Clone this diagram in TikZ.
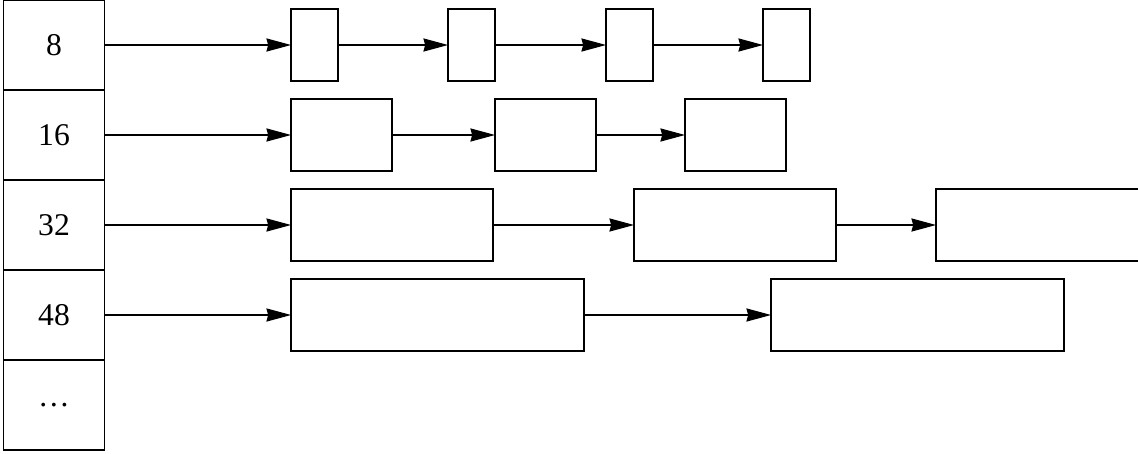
\documentclass[tikz,border=0pt]{standalone}
\usepackage{fontspec}
\setmainfont{Liberation Serif}
\usetikzlibrary{arrows.meta,positioning}

\begin{document}
\begin{tikzpicture}[x=0.02cm, y=-0.02cm,
    cell/.style={draw, line width=0.9pt, minimum width=2.02cm, minimum height=1.8cm, inner sep=0pt, outer sep=0pt, font=\fontsize{18}{20}\selectfont},
    blk/.style={draw, line width=0.9pt, minimum height=1.44cm, inner sep=0pt, outer sep=0pt, anchor=west},
    link/.style={-{Stealth[length=14pt, width=7.5pt, inset=1pt]}, line width=0.6pt}
]
\useasboundingbox (0,0) rectangle (1138,453);
\clip (0,0) rectangle (1138,453);

% size classes
\foreach \t [count=\i] in {8,16,32,48,\ldots} {
    \node[cell] (c\i) at (54,{45+90*(\i-1)}) {\t};
}

% free blocks
\foreach \x [count=\j] in {291,448,606,763} {
    \node[blk, minimum width=0.94cm] (a\j) at (\x,45) {};
}
\foreach \x [count=\j] in {291,495,685} {
    \node[blk, minimum width=2.02cm] (b\j) at (\x,135) {};
}
\foreach \x [count=\j] in {291,634} {
    \node[blk, minimum width=4.04cm] (d\j) at (\x,225) {};
}
\node[blk, minimum width=5cm] (d3) at (936,225) {};
\foreach \x [count=\j] in {291,771} {
    \node[blk, minimum width=5.86cm] (e\j) at (\x,315) {};
}

% lists
\draw[link] (c1.east) -- (a1.west);
\draw[link] (a1) -- (a2);
\draw[link] (a2) -- (a3);
\draw[link] (a3) -- (a4);
\draw[link] (c2.east) -- (b1.west);
\draw[link] (b1) -- (b2);
\draw[link] (b2) -- (b3);
\draw[link] (c3.east) -- (d1.west);
\draw[link] (d1) -- (d2);
\draw[link] (d2.east) -- (d3.west);
\draw[link] (c4.east) -- (e1.west);
\draw[link] (e1) -- (e2);
\end{tikzpicture}
\end{document}
